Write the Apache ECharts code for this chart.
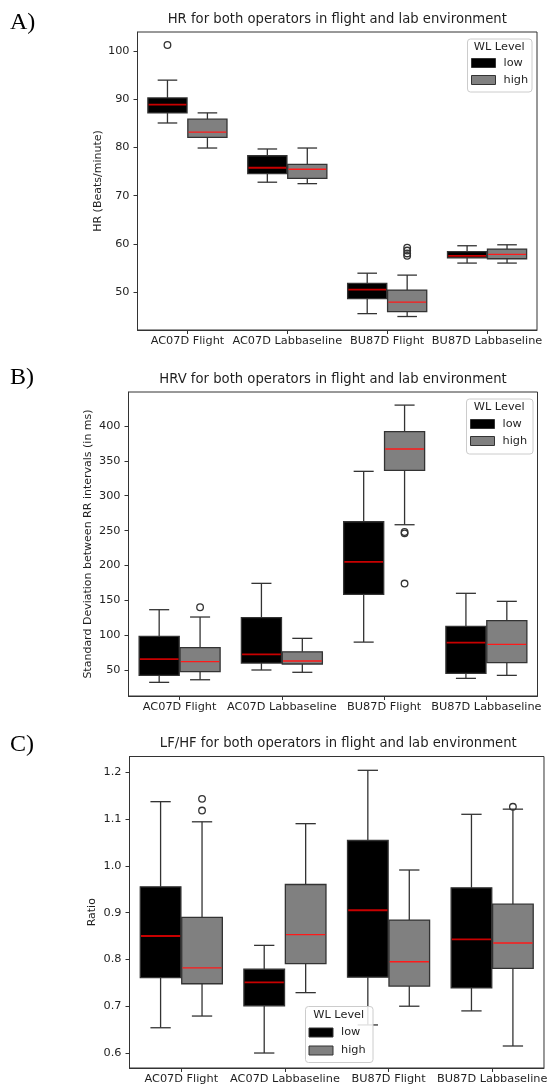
<!DOCTYPE html>
<html><head><meta charset="utf-8">
<script src="https://cdn.jsdelivr.net/npm/echarts@6/dist/echarts.min.js"></script>
<style>html,body{margin:0;padding:0;background:#fff}#c{width:550px;height:1086px}</style>
</head><body><div id="c"></div>
<script>
// ---------- data ----------
const categories = ['AC07D Flight', 'AC07D Labbaseline', 'BU87D Flight', 'BU87D Labbaseline'];
const hueLevels = ['low', 'high'];

// each row: [whisker low, Q1, median, Q3, whisker high]
const hrLow  = [[85.1, 87.2, 88.9, 90.3, 94.0], [72.8, 74.6, 75.8, 78.3, 79.7], [45.5, 48.6, 50.5, 51.8, 53.9], [56.0, 57.1, 57.5, 58.4, 59.6]];
const hrHigh = [[79.9, 82.1, 83.2, 85.9, 87.2], [72.5, 73.6, 75.5, 76.5, 79.9], [44.9, 45.9, 47.9, 50.4, 53.5], [56.0, 56.9, 57.8, 58.9, 59.8]];
const hrLowOutliers  = [[0, 101.3]];
const hrHighOutliers = [[2, 59.2], [2, 58.6], [2, 58.0], [2, 57.5]];
const hrTicks = [50, 60, 70, 80, 90, 100];

const hrvLow  = [[32.3, 42.3, 65.7, 98.3, 136.5], [50.0, 60.0, 72.5, 125.0, 174.3], [90.0, 158.5, 205.0, 262.7, 335.0], [38.0, 45.2, 89.2, 112.6, 160.0]];
const hrvHigh = [[36.0, 47.6, 62.0, 82.0, 126.0], [46.7, 58.6, 63.0, 76.0, 95.4], [258.4, 336.4, 367.0, 391.9, 430.0], [42.3, 60.5, 86.8, 120.7, 148.5]];
const hrvLowOutliers  = [];
const hrvHighOutliers = [[0, 140], [2, 246], [2, 248], [2, 174]];
const hrvTicks = [50, 100, 150, 200, 250, 300, 350, 400];

const lfhfLow  = [[0.654, 0.761, 0.850, 0.955, 1.137], [0.600, 0.701, 0.751, 0.779, 0.830], [0.660, 0.762, 0.905, 1.054, 1.204], [0.690, 0.739, 0.843, 0.953, 1.110]];
const lfhfHigh = [[0.679, 0.748, 0.782, 0.890, 1.094], [0.729, 0.791, 0.853, 0.960, 1.090], [0.700, 0.743, 0.795, 0.884, 0.991], [0.615, 0.781, 0.835, 0.918, 1.121]];
const lfhfLowOutliers  = [];
const lfhfHighOutliers = [[0, 1.143], [0, 1.118], [3, 1.126]];
const lfhfTicks = [0.6, 0.7, 0.8, 0.9, 1.0, 1.1, 1.2];

// ---------- styles / layout ----------
const FONT = 'DejaVu Sans';
const TXT = '#1f1f1f';
const EDGE = '#333333';
const LOW_FILL = '#000000';
const HIGH_FILL = '#808080';

const panels = [
  { letter: 'A)', title: 'HR for both operators in flight and lab environment', yName: 'HR (Beats/minute)',
    low: hrLow, high: hrHigh, lowOut: hrLowOutliers, highOut: hrHighOutliers, ticks: hrTicks, dec: 0,
    min: 42.1, max: 104.0, grid: { left: 137.5, top: 32, width: 399.5, height: 298 }, nameGap: 34,
    letterPos: [10, 24], titleY: 19.5,
    legend: { x: 467, y: 38.5, w: 64.5, h: 53, itemsTop: 56, patchX: 471, gap: 3 } },
  { letter: 'B)', title: 'HRV for both operators in flight and lab environment', yName: 'Standard Deviation between RR intervals (in ms)',
    low: hrvLow, high: hrvHigh, lowOut: hrvLowOutliers, highOut: hrvHighOutliers, ticks: hrvTicks, dec: 0,
    min: 12.7, max: 448.8, grid: { left: 128.5, top: 392, width: 409, height: 304 }, nameGap: 34.5,
    letterPos: [10, 379], titleY: 379.5,
    legend: { x: 466, y: 398.5, w: 66.5, h: 55, itemsTop: 417, patchX: 470, gap: 3 } },
  { letter: 'C)', title: 'LF/HF for both operators in flight and lab environment', yName: 'Ratio',
    low: lfhfLow, high: lfhfHigh, lowOut: lfhfLowOutliers, highOut: lfhfHighOutliers, ticks: lfhfTicks, dec: 1,
    min: 0.568, max: 1.2335, grid: { left: 129.5, top: 756.5, width: 417.5, height: 311.5 }, nameGap: 31.5,
    letterPos: [10, 746], titleY: 744,
    legend: { x: 305, y: 1006, w: 67.5, h: 56, itemsTop: 1025.5, patchX: 308.5, gap: 4 } }
];

function boxRenderer(offset, fill, medColor, medWidth) {
  return function (params, api) {
    const cat = api.value(0);
    const band = api.size([1, 0])[0];
    const cx = api.coord([cat, api.value(3)])[0] + offset * band;
    const hw = band * 0.392 / 2, cw = hw / 2;
    const y = i => api.coord([cat, api.value(i)])[1];
    const yMin = y(1), yQ1 = y(2), yMed = y(3), yQ3 = y(4), yMax = y(5);
    const ls = { stroke: EDGE, lineWidth: 1.3 };
    return { type: 'group', children: [
      { type: 'line', shape: { x1: cx, y1: yQ1, x2: cx, y2: yMin }, style: ls },
      { type: 'line', shape: { x1: cx, y1: yQ3, x2: cx, y2: yMax }, style: ls },
      { type: 'line', shape: { x1: cx - cw, y1: yMin, x2: cx + cw, y2: yMin }, style: ls },
      { type: 'line', shape: { x1: cx - cw, y1: yMax, x2: cx + cw, y2: yMax }, style: ls },
      { type: 'rect', shape: { x: cx - hw, y: yQ3, width: 2 * hw, height: yQ1 - yQ3 }, style: { fill: fill, stroke: EDGE, lineWidth: 1.3 } },
      { type: 'line', shape: { x1: cx - hw + 0.7, y1: yMed, x2: cx + hw - 0.7, y2: yMed }, style: { stroke: medColor, lineWidth: medWidth } }
    ] };
  };
}
function outlierRenderer(offset) {
  return function (params, api) {
    const band = api.size([1, 0])[0];
    const p = api.coord([api.value(0), api.value(1)]);
    return { type: 'circle', shape: { cx: p[0] + offset * band, cy: p[1], r: 3.3 }, style: { fill: 'rgba(0,0,0,0)', stroke: EDGE, lineWidth: 1.3 } };
  };
}

const option = {
  animation: false,
  backgroundColor: '#ffffff',
  textStyle: { fontFamily: FONT },
  title: [], grid: [], xAxis: [], yAxis: [], series: [], legend: [], graphic: []
};

panels.forEach((p, k) => {
  option.title.push({
    text: p.title, left: p.grid.left + p.grid.width / 2, top: p.titleY - 8, textAlign: 'center', padding: 0,
    textStyle: { fontFamily: FONT, fontSize: 13.2, fontWeight: 'normal', color: TXT, lineHeight: 16 }
  });
  option.graphic.push({
    type: 'text', left: p.letterPos[0], top: p.letterPos[1] - 13,
    style: { text: p.letter, font: '24px "Liberation Serif", "DejaVu Serif", serif', fill: '#000' }
  });
  option.grid.push(Object.assign({ show: true, borderColor: EDGE, borderWidth: 1, backgroundColor: 'transparent', containLabel: false }, p.grid));
  option.xAxis.push({
    type: 'category', gridIndex: k, data: categories, boundaryGap: true,
    axisLine: { show: true, onZero: false, lineStyle: { color: EDGE, width: 1 } },
    axisTick: { show: true, alignWithLabel: true, length: 4, lineStyle: { color: EDGE } },
    axisLabel: { interval: 0, margin: 6, fontSize: 11.3, color: TXT, fontFamily: FONT },
    splitLine: { show: false }
  });
  option.yAxis.push({
    type: 'value', gridIndex: k, min: p.min, max: p.max, scale: true,
    name: p.yName, nameLocation: 'middle', nameGap: p.nameGap, nameMoveOverlap: false,
    nameTextStyle: { fontSize: 11, color: TXT, fontFamily: FONT },
    axisLine: { show: true, onZero: false, lineStyle: { color: EDGE, width: 1 } },
    axisTick: { show: true, length: 4, lineStyle: { color: EDGE }, customValues: p.ticks },
    axisLabel: { fontSize: 11.3, color: TXT, margin: 8, fontFamily: FONT, customValues: p.ticks,
      formatter: v => Number(v).toFixed(p.dec) },
    splitLine: { show: false }
  });
  const groups = [
    { name: hueLevels[0], rows: p.low, out: p.lowOut, off: -0.2, fill: LOW_FILL, med: '#c80000', mw: 1.8 },
    { name: hueLevels[1], rows: p.high, out: p.highOut, off: 0.2, fill: HIGH_FILL, med: '#ff1a1a', mw: 1.4 }
  ];
  groups.forEach(g => {
    option.series.push({
      type: 'custom', name: g.name, xAxisIndex: k, yAxisIndex: k,
      itemStyle: { color: g.fill, borderColor: EDGE },
      renderItem: boxRenderer(g.off, g.fill, g.med, g.mw),
      encode: { x: 0, y: [1, 2, 3, 4, 5] },
      data: g.rows.map((r, i) => [i].concat(r)), z: 2
    });
    option.series.push({
      type: 'custom', name: g.name + ' outliers', xAxisIndex: k, yAxisIndex: k,
      renderItem: outlierRenderer(g.off),
      encode: { x: 0, y: 1 },
      data: g.out, z: 3
    });
  });
  const L = p.legend;
  option.graphic.push({
    type: 'rect', left: L.x, top: L.y, z: 10,
    shape: { width: L.w, height: L.h, r: 3 },
    style: { fill: 'rgba(255,255,255,0.85)', stroke: '#cccccc', lineWidth: 1 }
  });
  option.graphic.push({
    type: 'text', z: 11, x: L.x + L.w / 2, y: L.y + 9,
    style: { text: 'WL Level', font: '11.3px "DejaVu Sans"', fill: TXT, align: 'center', verticalAlign: 'middle' }
  });
  option.legend.push({
    orient: 'vertical', left: L.patchX, top: L.itemsTop, z: 12, padding: 0,
    itemWidth: 24, itemHeight: 9, itemGap: L.gap, selectedMode: false, icon: 'rect',
    textStyle: { fontSize: 11.3, color: TXT, fontFamily: FONT, lineHeight: 14, padding: [0, 0, 0, 3] },
    data: [
      { name: hueLevels[0], itemStyle: { color: LOW_FILL, borderColor: EDGE, borderWidth: 1 } },
      { name: hueLevels[1], itemStyle: { color: HIGH_FILL, borderColor: EDGE, borderWidth: 1 } }
    ]
  });
});

const chart = echarts.init(document.getElementById('c'), null, { renderer: 'canvas' });
chart.setOption(option);
</script>
</body></html>
